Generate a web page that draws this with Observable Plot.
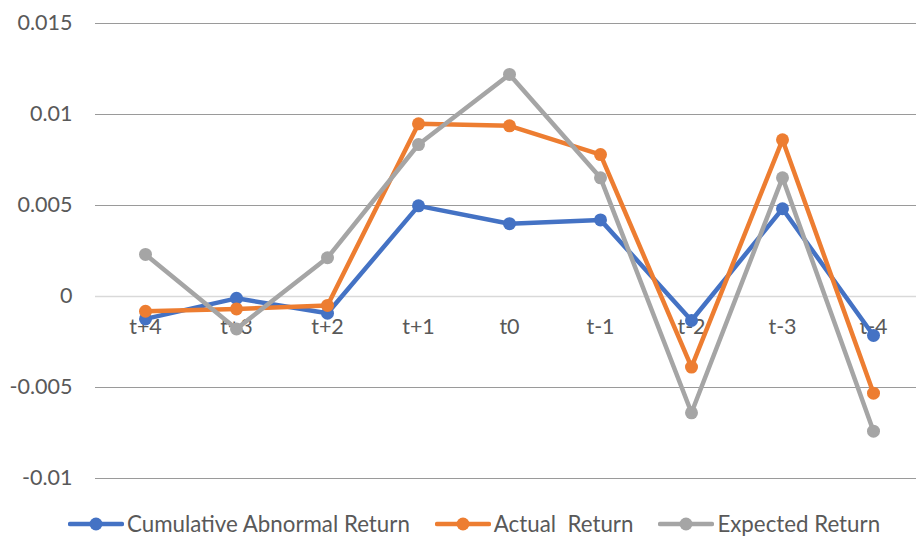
<!DOCTYPE html>
<html>
<head>
<meta charset="utf-8">
<script src="https://cdn.jsdelivr.net/npm/d3@7"></script>
<script src="https://cdn.jsdelivr.net/npm/@observablehq/plot@0.6"></script>
<style>
  html, body { margin: 0; padding: 0; background: #fff; }
  #chart { width: 916px; }
  #legend { display: flex; justify-content: flex-start; align-items: center; height: 35px;
    font-family: Lato, "Open Sans", sans-serif; font-size: 22.3px; color: #595959; padding-left: 68px; box-sizing: border-box; }
  .item { display: flex; align-items: center; margin-right: 25px; }
  .item svg { margin-right: 3px; }
</style>
</head>
<body>
<div id="chart"></div>
<div id="legend"></div>
<script>
const categories = ["t+4", "t+3", "t+2", "t+1", "t0", "t-1", "t-2", "t-3", "t-4"];
const cumulativeAbnormal = [-0.00123, -0.0001, -0.00092, 0.00498, 0.0040, 0.00421, -0.00132, 0.00482, -0.00214];
const actualReturn = [-0.00081, -0.00068, -0.00049, 0.00949, 0.00938, 0.0078, -0.00388, 0.00861, -0.00531];
const expectedReturn = [0.00231, -0.00178, 0.00213, 0.00835, 0.0122, 0.00652, -0.00639, 0.00652, -0.0074];
const yTicks = [-0.01, -0.005, 0, 0.005, 0.01, 0.015];

const seriesNames = ["Cumulative Abnormal Return", "Actual  Return", "Expected Return"];
const seriesColors = ["#4472C4", "#ED7D31", "#A5A5A5"];
const seriesValues = [cumulativeAbnormal, actualReturn, expectedReturn];

const data = seriesNames.flatMap((name, s) =>
  categories.map((c, i) => ({series: name, cat: c, value: seriesValues[s][i]})));

const lineMarks = seriesNames.flatMap((name, s) => {
  const rows = data.filter(d => d.series === name);
  return [
    Plot.line(rows, {x: "cat", y: "value", stroke: seriesColors[s], strokeWidth: 4.5, strokeLinejoin: "round", strokeLinecap: "round"}),
    Plot.dot(rows, {x: "cat", y: "value", r: 6.5, fill: seriesColors[s], stroke: "none"})
  ];
});

const chart = Plot.plot({
  width: 916,
  height: 506,
  marginLeft: 95,
  marginRight: 0,
  marginTop: 23,
  marginBottom: 28,
  style: {fontFamily: "Lato, 'Open Sans', sans-serif", fontSize: "21px", color: "#595959", background: "#fff"},
  x: {type: "point", domain: categories, range: [141.3, 876], padding: 0, axis: null},
  y: {domain: [-0.01, 0.015], axis: null},
  marks: [
    Plot.ruleY(yTicks.filter(t => t !== 0), {stroke: "#9a9a9a", strokeWidth: 1}),
    Plot.ruleY([0], {stroke: "#d9d9d9", strokeWidth: 1.5}),
    Plot.axisY(yTicks, {tickSize: 0, tickPadding: 23, tickFormat: d => String(d), fill: "#595959", fontSize: 21.5, label: null}),
    Plot.text(categories, {x: d => d, y: () => 0, dy: 31, fill: "#595959", fontSize: 21.5}),
    ...lineMarks
  ]
});
document.getElementById("chart").appendChild(chart);

const legend = document.getElementById("legend");
seriesNames.forEach((name, s) => {
  const item = document.createElement("div");
  item.className = "item";
  item.innerHTML = `<svg width="56" height="14"><line x1="2" y1="7" x2="54" y2="7" stroke="${seriesColors[s]}" stroke-width="4.5" stroke-linecap="round"/><circle cx="28" cy="7" r="6.5" fill="${seriesColors[s]}"/></svg><span style="white-space:pre">${name}</span>`;
  legend.appendChild(item);
});
</script>
</body>
</html>
